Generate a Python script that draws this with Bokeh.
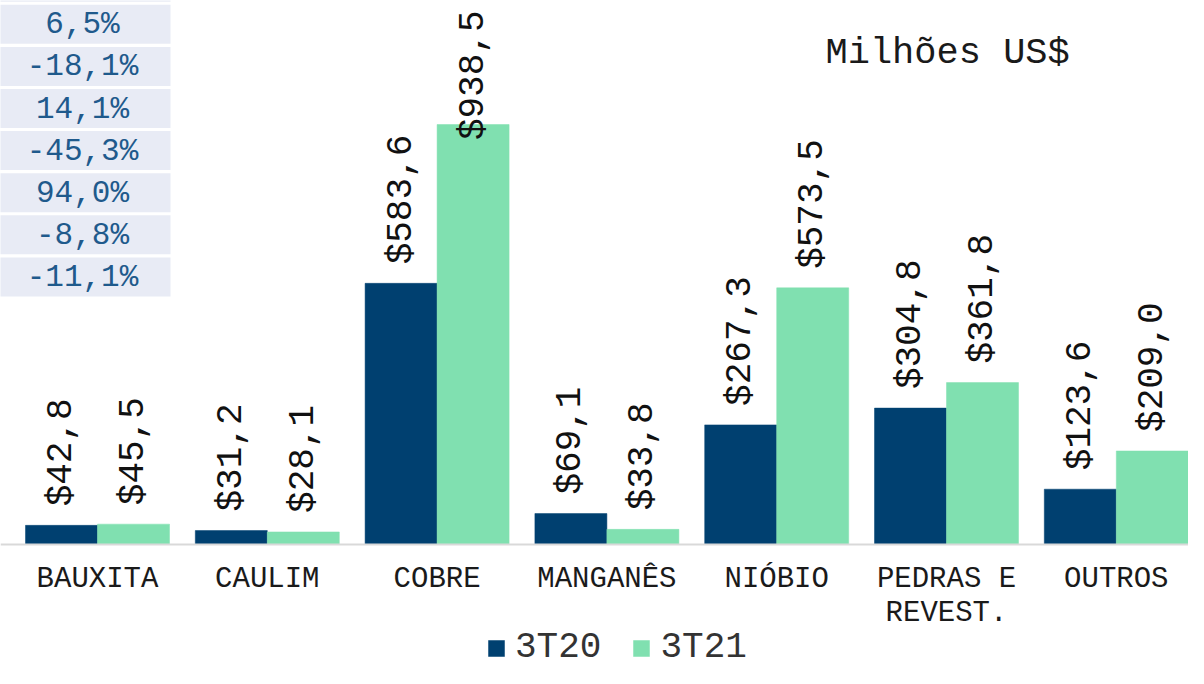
import math
from bokeh.plotting import figure
from bokeh.models import (Range1d, ColumnDataSource, BoxAnnotation, Label, Span,
                          Legend, LegendItem)
from bokeh.core.properties import value
from bokeh.embed import file_html
from bokeh.resources import INLINE

# ---- data ----
categories = ["BAUXITA", "CAULIM", "COBRE", "MANGANÊS", "NIÓBIO", "PEDRAS E\nREVEST.", "OUTROS"]
series_names = ["3T20", "3T21"]
vals_3t20 = [42.8, 31.2, 583.6, 69.1, 267.3, 304.8, 123.6]
vals_3t21 = [45.5, 28.1, 938.5, 33.8, 573.5, 361.8, 209.0]
variation = ["", "6,5%", "-18,1%", "14,1%", "-45,3%", "94,0%", "-8,8%", "-11,1%"]
unit_label = "Milhões US$"

# ---- styling / layout ----
FONT = "Liberation Mono"
C20 = "#004070"
C21 = "#80E0B0"
TABLE_BG = "#E8EBF5"
TABLE_FG = "#1F5A8C"

W, H = 1188, 668
BASE_PX = 544         # figure px of the value baseline
PX_X = 169.8          # px per category
PX_Y = 0.4475         # px per unit value
X0_FIG = 97.0         # figure px of category 0 center
x_start = -X0_FIG / PX_X
x_end = x_start + W / PX_X
y_end = BASE_PX / PX_Y
y_start = -(H - BASE_PX) / PX_Y

def xd(fig_px):
    return x_start + fig_px / PX_X

def yd(fig_py):
    return (BASE_PX - fig_py) / PX_Y

p = figure(width=W, height=H, output_backend="svg", toolbar_location=None,
           x_range=Range1d(x_start, x_end), y_range=Range1d(y_start, y_end),
           x_axis_location=None, y_axis_location=None,
           min_border_left=0, min_border_right=0, min_border_top=0, min_border_bottom=0)
p.outline_line_color = None
p.xgrid.visible = False
p.ygrid.visible = False
p.background_fill_color = "white"

BAR_W = 72.0 / PX_X
idx = list(range(len(categories)))
src20 = ColumnDataSource(dict(x=[i - BAR_W / 2 for i in idx], top=vals_3t20))
src21 = ColumnDataSource(dict(x=[i + BAR_W / 2 for i in idx], top=vals_3t21))
r20 = p.vbar(x="x", top="top", bottom=0, width=BAR_W, source=src20,
             fill_color=C20, line_color=C20, line_width=0.5)
r21 = p.vbar(x="x", top="top", bottom=0, width=BAR_W, source=src21,
             fill_color=C21, line_color=C21, line_width=0.5)

# category axis: baseline + labels
p.add_layout(Span(location=0, dimension="width", line_color="#D9D9D9", line_width=2))
cat_src = ColumnDataSource(dict(x=idx, y=[0] * len(idx), t=categories))
p.text(x="x", y="y", text="t", source=cat_src, y_offset=18, text_align="center",
       text_baseline="top", text_font=value(FONT), text_font_size="29px",
       text_color="#1a1a1a", text_line_height=1.05)

# value labels (rotated), clamped to stay within frame top
VFS = 36
TOP_LIMIT = 10
def label_source(xs, vals):
    texts = ["$" + f"{v:.1f}".replace(".", ",") for v in vals]
    offs = []
    for t, v in zip(texts, vals):
        bar_top = BASE_PX - v * PX_Y
        length = len(t) * 0.6 * VFS
        offs.append(max(-19.0, (TOP_LIMIT + length) - bar_top))
    return ColumnDataSource(dict(x=xs, y=vals, t=texts, off=offs))

for src_x, vals in ((src20.data["x"], vals_3t20), (src21.data["x"], vals_3t21)):
    ls = label_source(src_x, vals)
    p.text(x="x", y="y", text="t", source=ls, angle=math.pi / 2, y_offset="off",
           text_align="left", text_baseline="middle", text_font=value(FONT),
           text_font_size=f"{VFS}px", text_color="#111111")

# variation table at top-left
ROW_TOP0 = 4.3 - 42.1
ROW_PITCH = 42.1
ROW_H = 39
for k, txt in enumerate(variation):
    top = ROW_TOP0 + k * ROW_PITCH
    p.add_layout(BoxAnnotation(left=xd(-10), right=xd(170), top=yd(top), bottom=yd(top + ROW_H),
                               fill_color=TABLE_BG, fill_alpha=1.0, line_color=None))
    if txt:
        p.add_layout(Label(x=xd(82), y=yd(top + ROW_H / 2 + 0.5), text=txt, text_align="center",
                           text_baseline="middle", text_font=FONT, text_font_size="31px",
                           text_color=TABLE_FG))

# unit label
p.add_layout(Label(x=xd(825), y=yd(52), text=unit_label, text_align="left",
                   text_baseline="alphabetic", text_font=FONT, text_font_size="37px",
                   text_color="#1a1a1a"))

# legend
legend = Legend(items=[LegendItem(label=series_names[0], renderers=[r20]),
                       LegendItem(label=series_names[1], renderers=[r21])],
                orientation="horizontal", location=(486, 0),
                glyph_width=20, glyph_height=20, label_standoff=9, spacing=30,
                label_text_font=FONT, label_text_font_size="36px", label_text_color="#333333",
                padding=0, margin=0, border_line_color=None, background_fill_alpha=0)
p.add_layout(legend, "center")

open("out.html", "w").write(file_html(p, INLINE))
